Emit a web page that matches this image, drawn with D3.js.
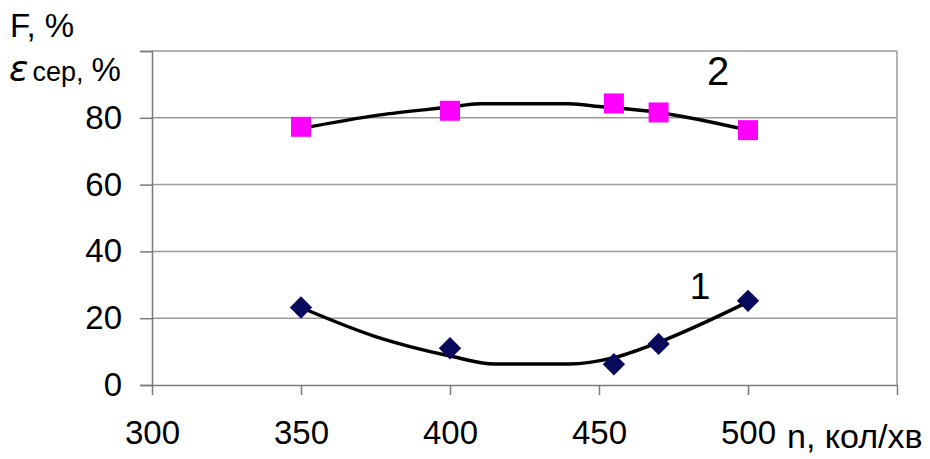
<!DOCTYPE html>
<html>
<head>
<meta charset="utf-8">
<script src="https://cdn.jsdelivr.net/npm/d3@7"></script>
<style>
  body { margin: 0; background: #fff; }
  text { font-family: "Liberation Sans", Arial, sans-serif; fill: #000; }
</style>
</head>
<body>
<svg id="chart" width="930" height="459"></svg>
<script>
// measured points
const speeds = [350, 400, 455, 470, 500];
const errorVals = [23.2, 11.0, 6.2, 12.3, 25.2];      // series 1 (diamonds)
const fractionVals = [77.3, 82.1, 84.3, 81.6, 76.3];  // series 2 (squares)

// trend lines
const trend1N = [350, 375, 400, 415, 440, 455, 470, 500];
const trend1V = [23.2, 14.5, 8.7, 6.3, 6.3, 8.2, 12.8, 24.9];
const trend2N = [350, 376, 400, 410, 440, 450, 470, 500];
const trend2V = [76.8, 80.8, 83.2, 84.2, 84.2, 83.4, 81.6, 76.3];

const xTicks = [300, 350, 400, 450, 500, 550];
const xLabels = [300, 350, 400, 450, 500];
const yTicks = [0, 20, 40, 60, 80, 100];
const yLabels = [0, 20, 40, 60, 80];

const svg = d3.select("#chart");

const x = d3.scaleLinear().domain([300, 550]).range([152, 897]);
const y = d3.scaleLinear().domain([0, 100]).range([385, 51]);

// gridlines
svg.append("g")
  .selectAll("line")
  .data(yTicks.filter(d => d > 0))
  .enter().append("line")
    .attr("x1", x(300)).attr("x2", x(550))
    .attr("y1", d => y(d)).attr("y2", d => y(d))
    .attr("stroke", "#9a9a9a")
    .attr("stroke-width", 1.5);

// right border of plot area
svg.append("line")
  .attr("x1", x(550)).attr("x2", x(550))
  .attr("y1", y(100)).attr("y2", y(0))
  .attr("stroke", "#9a9a9a")
  .attr("stroke-width", 1.5);

// y axis
const yAxis = svg.append("g")
  .attr("transform", `translate(${x(300)},0)`)
  .call(d3.axisLeft(y).tickValues(yTicks).tickSize(12).tickPadding(18)
    .tickFormat(d => yLabels.includes(d) ? d : ""));
yAxis.select(".domain").attr("stroke", "#7a7a7a").attr("stroke-width", 1.5);
yAxis.selectAll(".tick line").attr("stroke", "#7a7a7a").attr("stroke-width", 1.5);
yAxis.selectAll(".tick text")
  .style("font-size", "33px")
  .style("font-family", "'Liberation Sans', Arial, sans-serif")
  .attr("fill", "#111");

// x axis
const xAxis = svg.append("g")
  .attr("transform", `translate(0,${y(0)})`)
  .call(d3.axisBottom(x).tickValues(xTicks).tickSize(10).tickSizeOuter(0).tickPadding(26)
    .tickFormat(d => xLabels.includes(d) ? d : ""));
xAxis.select(".domain").attr("stroke", "#7a7a7a").attr("stroke-width", 1.5);
xAxis.selectAll(".tick line").attr("stroke", "#7a7a7a").attr("stroke-width", 1.5);
xAxis.selectAll(".tick text")
  .style("font-size", "33px")
  .style("font-family", "'Liberation Sans', Arial, sans-serif")
  .attr("fill", "#111");

// trend lines
const line = d3.line()
  .x(d => x(d[0]))
  .y(d => y(d[1]))
  .curve(d3.curveMonotoneX);

svg.append("path")
  .datum(d3.zip(trend2N, trend2V))
  .attr("d", line)
  .attr("fill", "none")
  .attr("stroke", "#000")
  .attr("stroke-width", 3.5);

// squares
svg.append("g")
  .selectAll("rect")
  .data(d3.zip(speeds, fractionVals))
  .enter().append("rect")
    .attr("x", d => x(d[0]) - 10)
    .attr("y", d => y(d[1]) - 10)
    .attr("width", 20)
    .attr("height", 20)
    .attr("fill", "#ff00ff");

svg.append("path")
  .datum(d3.zip(trend1N, trend1V))
  .attr("d", line)
  .attr("fill", "none")
  .attr("stroke", "#000")
  .attr("stroke-width", 3.5);

// diamonds
svg.append("g")
  .selectAll("path")
  .data(d3.zip(speeds, errorVals))
  .enter().append("path")
    .attr("d", d3.symbol(d3.symbolSquare, 250))
    .attr("transform", d => `translate(${x(d[0])},${y(d[1])}) rotate(45)`)
    .attr("fill", "#0a0a5c");

// series numbers
svg.append("text")
  .attr("x", 718).attr("y", 85)
  .attr("text-anchor", "middle")
  .style("font-size", "40px")
  .text("2");

svg.append("text")
  .attr("x", 700).attr("y", 299)
  .attr("text-anchor", "middle")
  .style("font-size", "37px")
  .text("1");

// axis titles
svg.append("text")
  .attr("x", 10).attr("y", 37)
  .style("font-size", "33px")
  .text("F, %");

const eps = svg.append("text")
  .attr("x", 9).attr("y", 81);
eps.append("tspan")
  .style("font-size", "36px")
  .style("font-family", "'DejaVu Sans', sans-serif")
  .style("font-style", "italic")
  .text("ε");
eps.append("tspan")
  .attr("dx", 4)
  .style("font-size", "27px")
  .text("сер,");
eps.append("tspan")
  .attr("dx", 8)
  .style("font-size", "33px")
  .text("%");

svg.append("text")
  .attr("x", 787).attr("y", 448)
  .style("font-size", "34px")
  .text("n, кол/хв");
</script>
</body>
</html>
